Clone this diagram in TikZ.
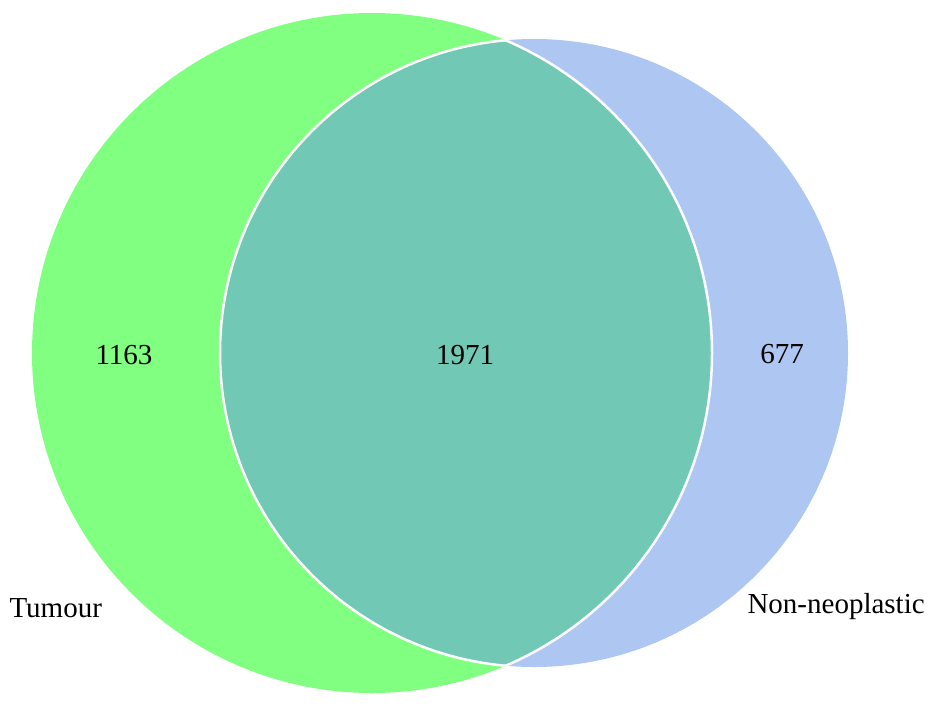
\documentclass[tikz,border=0pt]{standalone}
\usepackage{fontspec}
\setmainfont{Liberation Serif}
\definecolor{tumgreen}{RGB}{128,255,128}
\definecolor{nonblue}{RGB}{174,199,242}
\definecolor{overlap}{RGB}{113,201,181}
\tikzset{
  count/.style={font=\fontsize{29}{34}\selectfont, anchor=base},
  setlabel/.style={font=\fontsize{29}{34}\selectfont, anchor=base west},
}
\begin{document}
\begin{tikzpicture}[x=1pt,y=-1pt]
\useasboundingbox (0,0) rectangle (950,710);
\fill[white] (0,0) rectangle (950,710);
\coordinate (cg) at (372,353);
\coordinate (cb) at (534,353);
\fill[tumgreen] (cg) circle[radius=340];
\fill[nonblue] (cb) circle[radius=314];
\begin{scope}
  \clip (cg) circle[radius=340];
  \fill[overlap] (cb) circle[radius=314];
  \draw[white, line width=2.5pt] (cb) circle[radius=314];
\end{scope}
\begin{scope}
  \clip (cb) circle[radius=314];
  \draw[white, line width=2.5pt] (cg) circle[radius=340];
\end{scope}
\node[count] (n1) at (124,364) {1163};
\node[count] (n2) at (465,364) {1971};
\node[count] (n3) at (782,363) {677};
\node[setlabel] (lt) at (6,617) {Tumour};
\node[setlabel] (ln) at (744,613) {Non-neoplastic};
\end{tikzpicture}
\end{document}
